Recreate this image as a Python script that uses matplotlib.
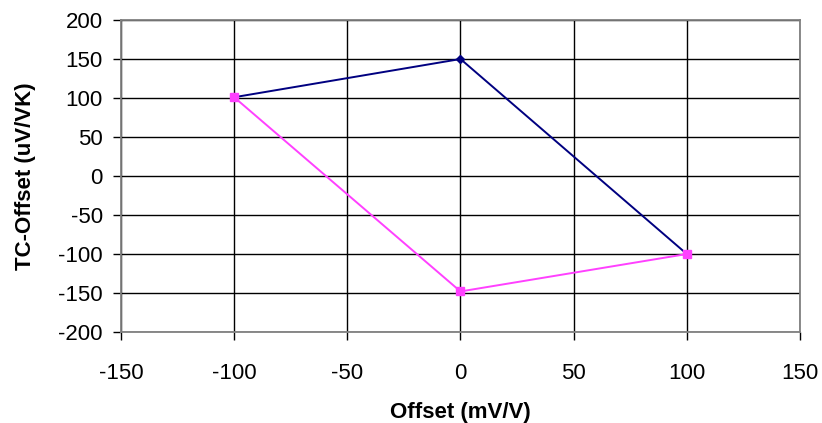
import matplotlib
matplotlib.use("Agg")
import matplotlib.pyplot as plt

# data
offset = [-100, 0, 100]
tc_series1 = [101, 150, -100]
tc_series2 = [101, -148, -100]

xticks = [-150, -100, -50, 0, 50, 100, 150]
yticks = [-200, -150, -100, -50, 0, 50, 100, 150, 200]

plt.rcParams['font.family'] = ['Liberation Sans', 'DejaVu Sans']
plt.rcParams['axes.unicode_minus'] = False

fig = plt.figure(figsize=(8.22, 4.23), dpi=100)
ax = fig.add_axes([0.1472, 0.2151, 0.826, 0.7376])

ax.plot(offset, tc_series1, color="#000080", lw=1.4, marker="D", ms=4, zorder=3)
ax.plot(offset, tc_series2, color="#FF40FF", lw=1.4, marker="s", ms=5.5, zorder=4)

ax.set_xlim(-150, 150)
ax.set_ylim(-200, 200)
ax.set_xticks(xticks)
ax.set_yticks(yticks)
ax.grid(True, color="black", lw=1.0)
ax.set_axisbelow(True)

for s in ax.spines.values():
    s.set_color("#808080")
    s.set_linewidth(1.3)

ax.tick_params(axis="both", direction="out", length=6, width=1, labelsize=16,
               color="black")
ax.tick_params(axis="y", pad=7)
ax.tick_params(axis="x", pad=16)

ax.set_xlabel("Offset (mV/V)", fontsize=16, fontweight="bold", labelpad=13)
ax.set_ylabel("TC-Offset (uV/VK)", fontsize=16, fontweight="bold", labelpad=16)

fig.savefig("out.png", dpi=100)
plt.close(fig)
